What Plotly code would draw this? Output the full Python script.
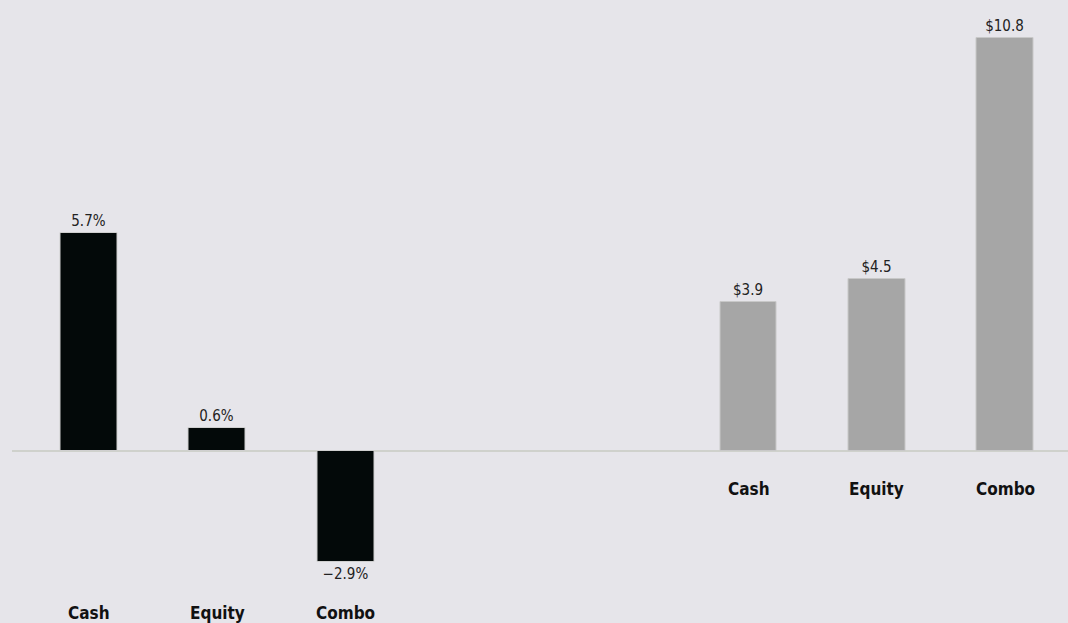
import plotly.graph_objects as go

categories = ["Cash", "Equity", "Combo"]
left_values = [5.7, 0.6, -2.9]
left_labels = ["5.7%", "0.6%", "\u22122.9%"]
right_values = [3.9, 4.5, 10.8]
right_labels = ["$3.9", "$4.5", "$10.8"]

BG = "#e6e5ea"
FONT = "Liberation Sans Narrow, DejaVu Sans Condensed, Roboto, sans-serif"

fig = go.Figure()
fig.add_trace(go.Bar(
    x=categories, y=left_values, text=left_labels, textposition="outside",
    marker=dict(color="#030909", line=dict(color="#cfcfcf", width=1)),
    width=0.44, xaxis="x", yaxis="y", cliponaxis=False,
    textfont=dict(family=FONT, size=15, color="#222222"),
))
fig.add_trace(go.Bar(
    x=categories, y=right_values, text=right_labels, textposition="outside",
    marker=dict(color="#a6a6a6", line=dict(color="#c8c8c8", width=1)),
    width=0.44, xaxis="x2", yaxis="y", cliponaxis=False,
    textfont=dict(family=FONT, size=15, color="#222222"),
))

# zero line
fig.add_shape(type="line", xref="paper", yref="y", x0=12/1068, x1=1, y0=0, y1=0,
              line=dict(color="#cfd1cc", width=2), layer="below")

# category labels
for c in categories:
    fig.add_annotation(x=c, xref="x", y=10/623, yref="paper", text="<b>" + c + "</b>",
                       showarrow=False, font=dict(family=FONT, size=17, color="#111111"),
                       yanchor="middle")
    fig.add_annotation(x=c, xref="x2", y=(623-489)/623, yref="paper", text="<b>" + c + "</b>",
                       showarrow=False, font=dict(family=FONT, size=17, color="#111111"),
                       yanchor="middle")

fig.update_layout(
    width=1068, height=623, margin=dict(l=0, r=0, t=0, b=0),
    paper_bgcolor=BG, plot_bgcolor=BG, showlegend=False, bargap=0,
    xaxis=dict(domain=[24.5/1068, 410/1068], range=[-0.5, 2.5], showticklabels=False,
               showgrid=False, zeroline=False, showline=False, ticks=""),
    xaxis2=dict(domain=[684.5/1068, 1], range=[-0.5, 2.49], showticklabels=False,
                showgrid=False, zeroline=False, showline=False, ticks="", anchor="y"),
    yaxis=dict(range=[-172/38.2, 451/38.2], visible=False, showgrid=False, zeroline=False),
)

fig.write_html("out.html")
